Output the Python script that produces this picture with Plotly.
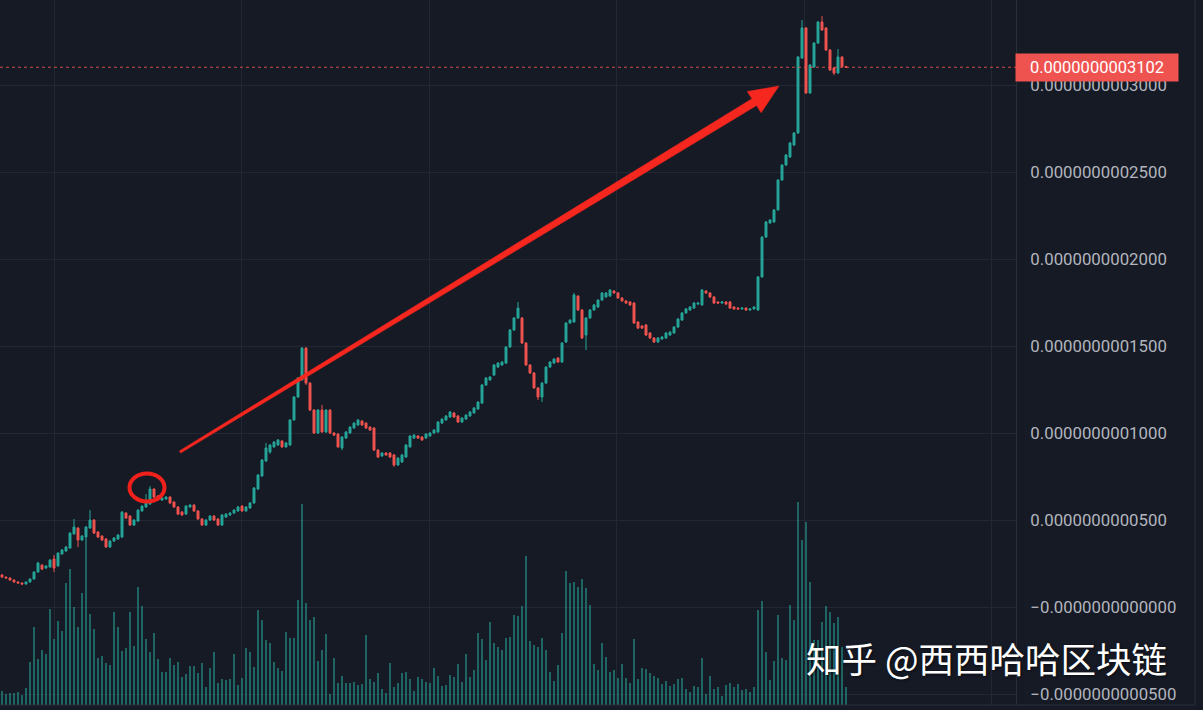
import plotly.graph_objects as go

# prices in units of 1e-12 (0.0000000003000 == 300)
open_ = [18.4, 17.2, 16.7, 15.5, 14.4, 13.8, 13.2, 14.4, 16.1, 20.1,
         24.1, 22.4, 23.0, 27.6, 23.6, 30.5, 32.2, 33.9, 42.0, 45.4,
         38.5, 40.2, 45.4, 50.0, 43.1, 40.8, 39.1, 34.5, 37.9, 39.1,
         40.2, 54.0, 52.3, 47.1, 49.4, 55.2, 57.5, 59.2, 67.8, 63.8,
         61.5, 62.1, 63.2, 60.3, 57.5, 54.6, 53.4, 57.5, 58.6, 55.2,
         50.6, 47.1, 50.0, 52.3, 50.6, 47.1, 51.7, 52.9, 54.0, 55.2,
         58.0, 55.2, 56.9, 59.8, 67.8, 75.3,
         83.9, 89.1, 92.0, 93.1, 95.4, 92.0, 93.1, 107.5, 120.7, 130.5,
         148.8, 128.7, 113.2, 100.0, 113.2, 100.6, 113.2, 100.0, 99.4, 91.4,
         97.1, 100.0, 102.9, 104.6, 106.9, 105.7, 103.4, 102.9, 90.2, 86.8,
         88.5, 88.5, 87.4, 81.6, 83.3, 86.2, 92.0, 97.1, 98.3, 97.7,
         97.1, 98.3, 100.0, 100.6, 105.7, 107.5, 109.2, 111.5, 109.8, 106.3,
         108.0, 109.8, 111.5, 113.8, 117.2, 127.6, 130.5, 133.3, 137.9, 139.1,
         140.2, 149.4, 159.2, 166.1,
         166.1, 151.7, 139.1, 134.5, 125.9, 120.7, 128.7, 137.9, 140.2, 143.1,
         140.8, 152.3, 163.2, 163.8, 178.7, 170.7, 156.3, 166.1, 170.7, 172.4,
         176.4, 178.2, 178.7, 181.6, 180.5, 177.6, 175.9, 175.3, 174.7, 163.8,
         161.5, 162.1, 157.5, 154.6, 152.3, 154.0, 154.6, 156.3, 157.5, 160.9,
         164.9, 169.0, 170.7, 171.8, 174.1, 173.6, 181.6, 180.5, 178.2, 175.3,
         174.7, 175.3, 175.3, 172.4, 171.8, 171.3, 171.8, 170.7, 171.3, 170.7,
         189.7, 212.6, 220.7, 221.3, 228.2, 245.4, 254.0, 258.6, 265.5, 272.4, 315.5,
         332.8, 295.4, 310.3, 324.1, 336.2, 332.8, 320.1, 309.8, 306.9, 316.1, 310.6]

close = [17.2, 16.7, 15.5, 14.4, 13.8, 13.2, 14.4, 16.1, 20.1, 25.3,
         21.8, 23.6, 27.0, 22.4, 31.0, 32.8, 34.5, 42.5, 46.0, 38.5,
         40.8, 46.0, 50.0, 42.5, 40.2, 38.5, 34.5, 37.9, 39.7, 41.4,
         54.6, 51.1, 47.1, 50.0, 55.7, 58.0, 59.8, 67.8, 63.2, 61.5,
         62.6, 63.2, 59.8, 57.5, 53.4, 52.9, 58.0, 58.6, 55.2, 50.6,
         47.1, 50.0, 52.3, 50.0, 47.1, 52.9, 53.4, 54.0, 55.7, 57.5,
         55.2, 57.5, 59.8, 68.4, 75.9, 84.5,
         91.4, 93.1, 94.8, 96.0, 92.0, 94.3, 107.5, 120.7, 131.6, 148.8,
         128.7, 113.2, 100.0, 113.2, 100.6, 113.2, 100.0, 98.8, 92.0, 97.7,
         100.6, 103.4, 105.7, 107.5, 104.6, 102.9, 101.7, 90.2, 86.2, 88.5,
         87.4, 86.2, 81.6, 85.6, 87.4, 93.1, 98.3, 98.8, 97.1, 96.0,
         99.4, 100.0, 101.7, 106.3, 108.0, 109.8, 112.1, 109.2, 106.3, 108.6,
         110.3, 112.1, 114.4, 117.8, 127.6, 131.6, 132.2, 139.1, 140.2, 140.8,
         149.4, 159.2, 166.1, 171.8,
         151.7, 139.1, 134.5, 125.9, 120.7, 128.7, 137.9, 140.8, 142.5, 140.8,
         151.7, 163.2, 164.9, 179.3, 170.7, 154.6, 166.1, 170.7, 173.6, 176.4,
         180.5, 180.5, 182.2, 180.5, 177.6, 175.9, 174.7, 173.6, 163.2, 160.3,
         160.3, 156.3, 154.6, 152.3, 154.6, 155.2, 157.5, 158.0, 160.9, 165.5,
         169.0, 171.3, 172.4, 174.7, 174.7, 182.2, 180.5, 178.2, 174.7, 174.7,
         175.3, 174.1, 171.8, 171.3, 171.3, 171.8, 170.7, 171.3, 172.4, 189.7,
         212.6, 221.3, 222.4, 228.2, 245.4, 254.0, 259.8, 266.7, 272.4, 316.1, 332.8,
         295.4, 311.5, 324.1, 336.2, 331.6, 320.1, 308.6, 306.9, 316.1, 310.6, 310.2]

high = [18.9, 17.5, 17.0, 15.8, 14.7, 14.1, 14.8, 16.5, 20.6, 26.0,
        24.6, 24.0, 27.5, 29.9, 31.5, 33.3, 35.0, 43.0, 50.6, 45.9,
        41.3, 46.5, 55.7, 50.5, 43.6, 41.2, 39.6, 38.4, 40.2, 41.9,
        55.1, 54.5, 52.8, 50.5, 56.2, 58.5, 64.9, 69.5, 68.3, 64.3,
        63.1, 63.7, 63.7, 60.8, 58.0, 55.1, 58.5, 59.1, 59.1, 55.7,
        51.1, 50.5, 52.8, 52.8, 51.1, 53.4, 53.9, 54.5, 56.2, 58.0,
        58.5, 58.0, 60.3, 68.9, 76.4, 85.0,
        94.3, 93.6, 95.3, 96.5, 95.9, 94.8, 108.0, 121.2, 132.1, 149.4,
        149.4, 129.2, 113.7, 113.7, 116.1, 113.7, 113.7, 100.5, 99.9, 98.2,
        101.1, 103.9, 106.2, 108.0, 107.4, 106.2, 103.9, 103.4, 90.7, 89.0,
        89.0, 89.0, 87.9, 86.1, 87.9, 93.6, 98.8, 99.3, 98.8, 98.2,
        99.9, 100.5, 102.2, 106.8, 108.5, 110.3, 112.6, 112.0, 110.3, 109.1,
        110.8, 112.6, 114.9, 118.3, 128.1, 132.1, 132.7, 139.6, 140.7, 141.3,
        149.9, 159.7, 166.6, 175.3,
        166.6, 152.2, 139.6, 135.0, 126.4, 129.2, 138.4, 141.3, 143.0, 143.6,
        152.2, 163.7, 165.4, 180.5, 179.2, 171.2, 166.6, 171.2, 174.1, 176.9,
        181.0, 181.0, 182.7, 182.1, 181.0, 178.1, 176.4, 175.8, 175.2, 164.3,
        162.0, 162.6, 158.0, 155.1, 155.1, 155.7, 158.0, 158.5, 161.4, 166.0,
        169.5, 171.8, 172.9, 175.2, 175.2, 182.7, 182.1, 181.0, 178.7, 175.8,
        175.8, 175.8, 175.8, 172.9, 172.3, 172.3, 172.3, 171.8, 172.9, 190.2,
        213.1, 221.8, 222.9, 228.7, 245.9, 254.5, 260.3, 267.2, 272.9, 316.6, 337.3,
        333.3, 312.0, 324.6, 336.7, 339.6, 333.3, 320.6, 310.3, 320.7, 316.6, 311.0]

low = [16.9, 16.3, 15.2, 14.0, 13.4, 12.8, 12.9, 14.1, 15.8, 19.8,
       21.2, 22.0, 22.6, 20.1, 23.2, 30.1, 31.8, 33.5, 41.6, 34.5,
       38.0, 39.8, 45.0, 42.0, 39.8, 38.0, 34.0, 34.1, 37.5, 38.7,
       39.8, 50.6, 46.6, 46.7, 49.0, 54.8, 57.1, 58.8, 62.7, 61.0,
       61.1, 61.7, 59.3, 57.0, 52.9, 52.4, 53.0, 57.1, 54.7, 50.1,
       46.6, 46.7, 49.6, 49.5, 46.6, 46.7, 51.3, 52.5, 53.6, 54.8,
       54.7, 54.8, 56.5, 59.4, 67.4, 74.9,
       83.5, 88.0, 91.6, 92.7, 91.5, 91.6, 92.7, 107.1, 120.3, 130.1,
       127.6, 112.7, 99.5, 99.6, 100.1, 100.2, 99.5, 98.3, 91.5, 90.2,
       96.7, 99.6, 102.5, 104.2, 104.1, 102.4, 101.2, 89.7, 85.7, 86.4,
       86.9, 85.7, 80.5, 81.2, 82.9, 85.8, 91.6, 96.7, 96.6, 95.5,
       96.7, 97.9, 99.6, 100.2, 105.3, 107.1, 108.8, 108.7, 105.8, 105.9,
       107.6, 109.4, 111.1, 113.4, 116.8, 127.2, 130.1, 132.9, 137.5, 138.7,
       139.8, 149.0, 158.8, 165.7,
       151.2, 138.6, 134.0, 125.4, 119.0, 117.8, 128.3, 137.5, 139.8, 140.3,
       140.4, 151.9, 162.8, 163.4, 170.2, 154.1, 147.7, 165.7, 170.3, 172.0,
       176.0, 177.8, 178.3, 180.0, 177.1, 175.4, 174.2, 173.1, 162.7, 159.8,
       159.8, 155.8, 154.1, 151.8, 151.9, 153.6, 154.2, 155.9, 157.1, 160.5,
       164.5, 168.6, 170.3, 171.4, 173.7, 173.2, 180.0, 177.7, 174.2, 174.2,
       174.3, 173.6, 171.3, 170.8, 170.8, 170.9, 170.2, 170.3, 170.9, 170.3,
       189.3, 212.2, 220.3, 220.9, 227.8, 245.0, 253.6, 258.2, 265.1, 272.0, 315.1,
       294.9, 295.0, 309.9, 323.7, 331.1, 319.6, 308.1, 305.7, 306.5, 310.1, 309.8]

volume = [14, 11, 12, 12, 13, 10, 17, 43, 78, 46,
          55, 51, 96, 66, 84, 74, 122, 136, 98, 78,
          112, 167, 91, 76, 47, 49, 42, 40, 93, 78,
          54, 57, 93, 59, 118, 99, 66, 53, 72, 46,
          33, 33, 47, 40, 43, 28, 31, 39, 39, 32,
          42, 18, 37, 53, 22, 26, 25, 26, 51, 20,
          27, 57, 53, 38, 95, 85, 65, 62, 43, 37,
          34, 73, 67, 67, 105, 201, 102, 85, 88, 44,
          55, 71, 11, 47, 22, 29, 22, 22, 23, 20,
          21, 70, 26, 23, 32, 16, 12, 42, 18, 22,
          32, 33, 26, 14, 28, 26, 23,
          22, 37, 29, 19, 20, 30, 28, 41, 23, 51,
          28, 35, 72, 66, 45, 83, 62, 58, 55, 67,
          68, 90, 89, 99, 149, 64, 60, 58, 67, 55,
          33, 24, 40, 72, 134, 122, 123, 118, 126, 117,
          100, 41, 35, 62, 48, 33, 35, 27, 41, 27,
          22, 66, 26, 37, 36, 32, 29, 27, 21, 24,
          19, 21, 26, 27, 16, 13, 19, 18, 47, 11,
          29, 16, 18, 9, 20, 22, 18, 21, 15, 16,
          13, 18, 95, 104, 53, 25, 44, 90, 47, 45,
          100, 85, 203, 165, 183, 123, 65, 65, 83, 99,
          93, 82, 88, 58, 18]

last_price = 310.2
last_label = "0.0000000003102"

tick_vals = [-50, 0, 50, 100, 150, 200, 250, 300, 350]
tick_text = ["\u22120.0000000000500", "\u22120.0000000000000", "0.0000000000500",
             "0.0000000001000", "0.0000000001500", "0.0000000002000",
             "0.0000000002500", "0.0000000003000", "0.0000000003500"]

bars = list(range(len(close)))

UP = "#26a69a"
DOWN = "#ef5350"
BG = "#161a25"
GRID = "#232733"

PLOT_W = 1016
PLOT_H = 705


def px(x):
    return x / PLOT_W


def py(y):
    return 1 - y / PLOT_H


fig = go.Figure()
fig.add_trace(go.Bar(x=bars, y=volume, width=0.58, marker=dict(color="rgba(38,166,154,0.55)", line=dict(width=0)),
                     yaxis="y", hoverinfo="skip"))
fig.add_trace(go.Candlestick(x=bars, open=open_, high=high, low=low, close=close, yaxis="y2",
                             increasing=dict(line=dict(color=UP, width=1), fillcolor=UP),
                             decreasing=dict(line=dict(color=DOWN, width=1), fillcolor=DOWN),
                             whiskerwidth=0))

# tapered arrow (pixel coords -> paper)
arrow_pts = [(180.6, 453.1), (756.6, 105.5), (761.1, 112.8), (779, 86),
             (747.3, 91.5), (751.9, 98.8), (179.4, 450.9)]
path = "M " + " L ".join(f"{px(x):.5f},{py(y):.5f}" for x, y in arrow_pts) + " Z"

shapes = [
    dict(type="path", xref="paper", yref="paper", path=path, fillcolor="#f5271f",
         line=dict(color="#f5271f", width=0.5)),
    dict(type="circle", xref="paper", yref="paper", x0=px(129.5), x1=px(164.5), y0=py(501.5), y1=py(473.5),
         line=dict(color="#f0201a", width=4)),
    dict(type="line", xref="paper", yref="y2", x0=0, x1=1, y0=last_price, y1=last_price,
         line=dict(color="rgba(239,83,80,0.85)", width=1, dash="dot")),
    dict(type="line", xref="paper", yref="paper", x0=px(1195), x1=px(1195), y0=py(705), y1=1,
         line=dict(color="#2a2e39", width=1)),
    dict(type="line", xref="paper", yref="paper", x0=0, x1=px(1195), y0=0, y1=0,
         line=dict(color="#2a2e39", width=1)),
]

annotations = [
    dict(xref="paper", yref="y2", x=1, y=last_price, xanchor="left", yanchor="middle", xshift=-1,
         text=last_label, showarrow=False, bgcolor=DOWN, width=158, height=23, borderpad=2,
         font=dict(family="Roboto", size=16.5, color="#ffffff"), align="center"),
    dict(xref="paper", yref="paper", x=px(804), y=py(657), xanchor="left", yanchor="middle",
         text="知乎 @西西哈哈区块链", showarrow=False,
         font=dict(family="Noto Sans CJK SC", size=35.5, color="#ffffff",
                   shadow="1px 1px 3px rgba(0,0,0,0.6)")),
]

fig.update_layout(
    width=1203, height=710,
    margin=dict(l=0, r=187, t=0, b=5),
    paper_bgcolor=BG, plot_bgcolor=BG,
    showlegend=False,
    bargap=0,
    xaxis=dict(range=[-0.5, 253.5], tickvals=[13, 59.9, 106.75, 153.6, 200.5, 247.3],
               showticklabels=False, showgrid=True, gridcolor=GRID, gridwidth=1,
               zeroline=False, rangeslider=dict(visible=False), fixedrange=True, ticks=""),
    yaxis=dict(range=[0, 705], visible=False, showgrid=False, zeroline=False, fixedrange=True),
    yaxis2=dict(overlaying="y", side="right", range=[-56.3, 348.85], tickvals=tick_vals, ticktext=tick_text,
                showgrid=True, gridcolor=GRID, gridwidth=1, zeroline=False, ticks="",
                showline=True, linecolor="#2a2e39", linewidth=1, ticklabelstandoff=10,
                tickfont=dict(family="Roboto", size=16.8, color="#b2b5be"), fixedrange=True),
    shapes=shapes,
    annotations=annotations,
)

fig.write_html("out.html", config={"displayModeBar": False})
